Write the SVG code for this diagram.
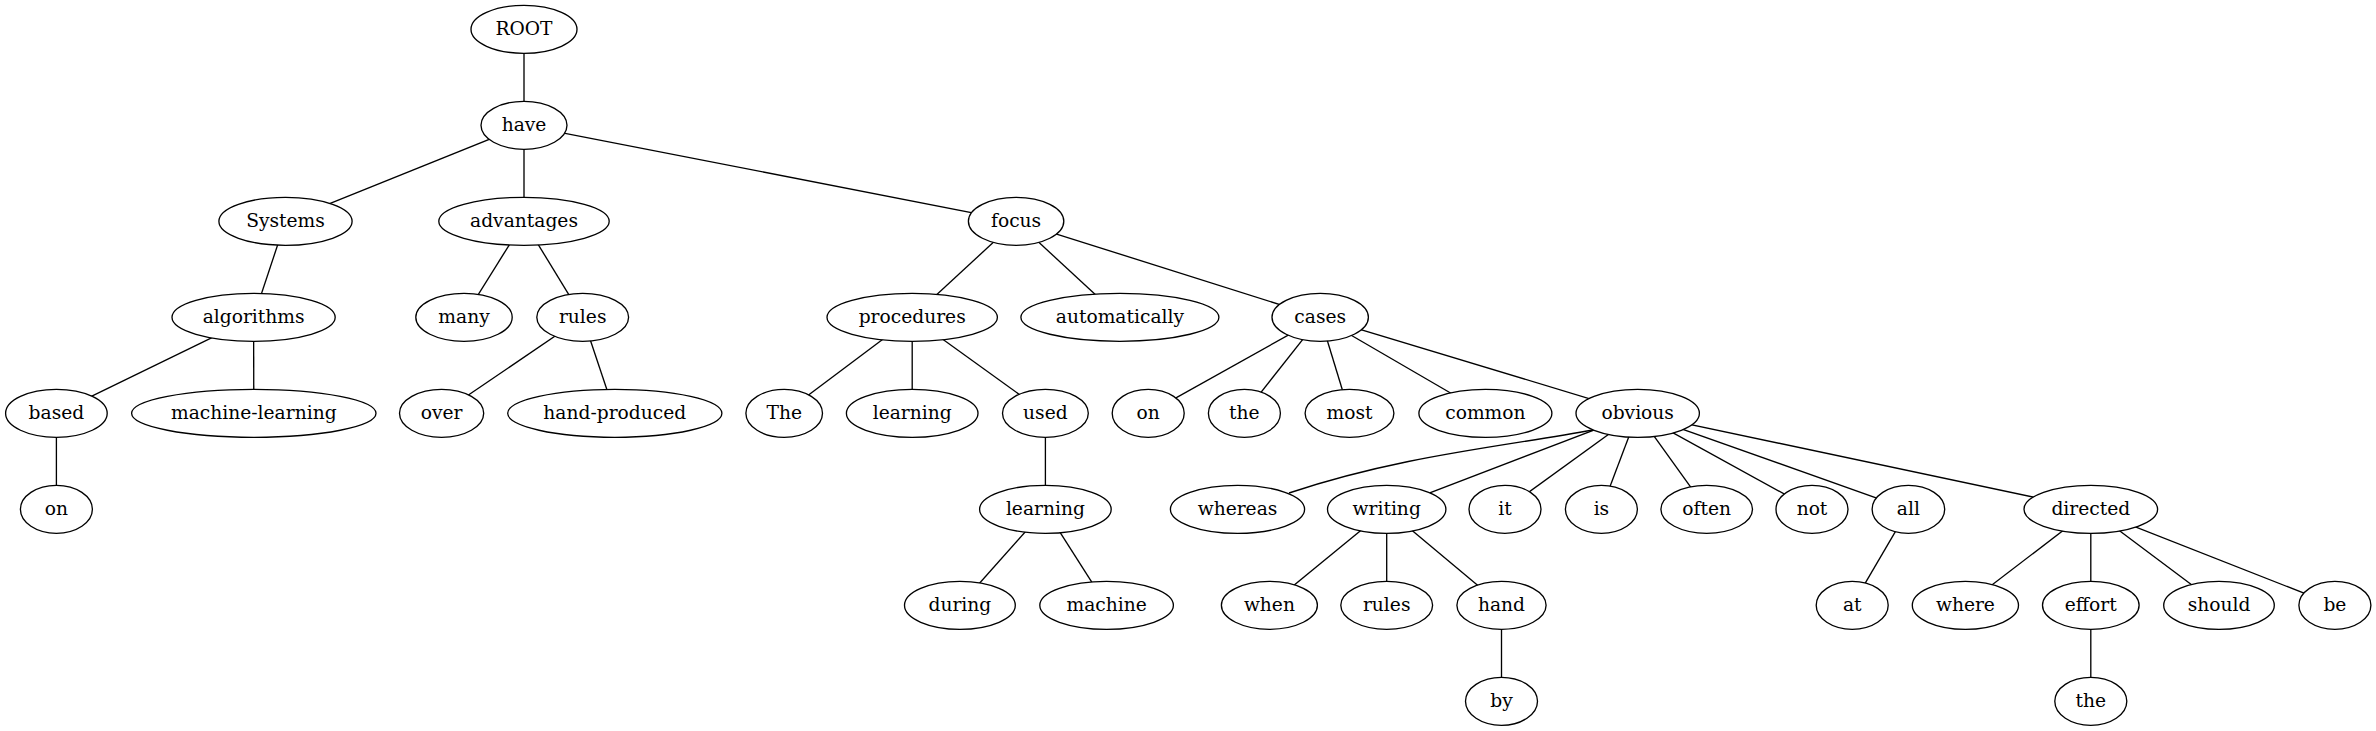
<svg xmlns="http://www.w3.org/2000/svg" width="2376" height="731" viewBox="0 0 2376 731">
<style>
.n ellipse{fill:#fff;stroke:#000;stroke-width:1.33}
.n text{font-family:"DejaVu Serif","Liberation Serif",serif;font-size:18.67px;text-anchor:middle;fill:#000}
#edges line,#edges path{stroke:#000;stroke-width:1.33;fill:none}
</style>
<rect width="2376" height="731" fill="#fff"/>
<g id="edges">
<line x1="524" y1="29.3" x2="524" y2="125.3"/>
<line x1="524" y1="125.3" x2="285.5" y2="221.3"/>
<line x1="524" y1="125.3" x2="524" y2="221.3"/>
<line x1="524" y1="125.3" x2="1016.1" y2="221.3"/>
<line x1="285.5" y1="221.3" x2="253.6" y2="317.3"/>
<line x1="253.6" y1="317.3" x2="56.4" y2="413.3"/>
<line x1="253.6" y1="317.3" x2="253.8" y2="413.3"/>
<line x1="56.4" y1="413.3" x2="56.4" y2="509.3"/>
<line x1="524" y1="221.3" x2="464" y2="317.3"/>
<line x1="524" y1="221.3" x2="582.7" y2="317.3"/>
<line x1="582.7" y1="317.3" x2="441.6" y2="413.3"/>
<line x1="582.7" y1="317.3" x2="614.8" y2="413.3"/>
<line x1="1016.1" y1="221.3" x2="912.2" y2="317.3"/>
<line x1="1016.1" y1="221.3" x2="1119.9" y2="317.3"/>
<line x1="1016.1" y1="221.3" x2="1320.2" y2="317.3"/>
<line x1="912.2" y1="317.3" x2="784.2" y2="413.3"/>
<line x1="912.2" y1="317.3" x2="912.2" y2="413.3"/>
<line x1="912.2" y1="317.3" x2="1045.4" y2="413.3"/>
<line x1="1045.4" y1="413.3" x2="1045.4" y2="509.3"/>
<line x1="1045.4" y1="509.3" x2="959.9" y2="605.3"/>
<line x1="1045.4" y1="509.3" x2="1106.6" y2="605.3"/>
<line x1="1320.2" y1="317.3" x2="1148.2" y2="413.3"/>
<line x1="1320.2" y1="317.3" x2="1244.4" y2="413.3"/>
<line x1="1320.2" y1="317.3" x2="1349.5" y2="413.3"/>
<line x1="1320.2" y1="317.3" x2="1485.4" y2="413.3"/>
<line x1="1320.2" y1="317.3" x2="1637.7" y2="413.3"/>
<path d="M1593,430 C1500,447 1400,456 1289,493"/>
<line x1="1637.7" y1="413.3" x2="1386.7" y2="509.3"/>
<line x1="1637.7" y1="413.3" x2="1505" y2="509.3"/>
<line x1="1637.7" y1="413.3" x2="1601.4" y2="509.3"/>
<line x1="1637.7" y1="413.3" x2="1706.7" y2="509.3"/>
<line x1="1637.7" y1="413.3" x2="1812" y2="509.3"/>
<line x1="1637.7" y1="413.3" x2="1908.4" y2="509.3"/>
<line x1="1637.7" y1="413.3" x2="2090.8" y2="509.3"/>
<line x1="1386.7" y1="509.3" x2="1269.4" y2="605.3"/>
<line x1="1386.7" y1="509.3" x2="1386.7" y2="605.3"/>
<line x1="1386.7" y1="509.3" x2="1501.5" y2="605.3"/>
<line x1="1501.5" y1="605.3" x2="1501.5" y2="701.3"/>
<line x1="1908.4" y1="509.3" x2="1852.2" y2="605.3"/>
<line x1="2090.8" y1="509.3" x2="1965.4" y2="605.3"/>
<line x1="2090.8" y1="509.3" x2="2090.8" y2="605.3"/>
<line x1="2090.8" y1="509.3" x2="2219" y2="605.3"/>
<line x1="2090.8" y1="509.3" x2="2334.9" y2="605.3"/>
<line x1="2090.8" y1="605.3" x2="2090.8" y2="701.3"/>
</g>
<g id="n_root" class="n"><ellipse cx="524" cy="29.3" rx="53" ry="24"/><text x="524" y="35.3">ROOT</text></g>
<g id="n_have" class="n"><ellipse cx="524" cy="125.3" rx="43" ry="24"/><text x="524" y="131.3">have</text></g>
<g id="n_systems" class="n"><ellipse cx="285.5" cy="221.3" rx="66.6" ry="24"/><text x="285.5" y="227.3">Systems</text></g>
<g id="n_advantages" class="n"><ellipse cx="524" cy="221.3" rx="85.2" ry="24"/><text x="524" y="227.3">advantages</text></g>
<g id="n_focus" class="n"><ellipse cx="1016.1" cy="221.3" rx="47.7" ry="24"/><text x="1016.1" y="227.3">focus</text></g>
<g id="n_algorithms" class="n"><ellipse cx="253.6" cy="317.3" rx="81.6" ry="24"/><text x="253.6" y="323.3">algorithms</text></g>
<g id="n_many" class="n"><ellipse cx="464" cy="317.3" rx="48.2" ry="24"/><text x="464" y="323.3">many</text></g>
<g id="n_rules1" class="n"><ellipse cx="582.7" cy="317.3" rx="45.9" ry="24"/><text x="582.7" y="323.3">rules</text></g>
<g id="n_procedures" class="n"><ellipse cx="912.2" cy="317.3" rx="85.2" ry="24"/><text x="912.2" y="323.3">procedures</text></g>
<g id="n_automatically" class="n"><ellipse cx="1119.9" cy="317.3" rx="99" ry="24"/><text x="1119.9" y="323.3">automatically</text></g>
<g id="n_cases" class="n"><ellipse cx="1320.2" cy="317.3" rx="48.2" ry="24"/><text x="1320.2" y="323.3">cases</text></g>
<g id="n_based" class="n"><ellipse cx="56.4" cy="413.3" rx="50.8" ry="24"/><text x="56.4" y="419.3">based</text></g>
<g id="n_machine_learning" class="n"><ellipse cx="253.8" cy="413.3" rx="122.2" ry="24"/><text x="253.8" y="419.3">machine-learning</text></g>
<g id="n_over" class="n"><ellipse cx="441.6" cy="413.3" rx="42.1" ry="24"/><text x="441.6" y="419.3">over</text></g>
<g id="n_hand_produced" class="n"><ellipse cx="614.8" cy="413.3" rx="107.1" ry="24"/><text x="614.8" y="419.3">hand-produced</text></g>
<g id="n_The" class="n"><ellipse cx="784.2" cy="413.3" rx="38.3" ry="24"/><text x="784.2" y="419.3">The</text></g>
<g id="n_learning1" class="n"><ellipse cx="912.2" cy="413.3" rx="65.8" ry="24"/><text x="912.2" y="419.3">learning</text></g>
<g id="n_used" class="n"><ellipse cx="1045.4" cy="413.3" rx="42.9" ry="24"/><text x="1045.4" y="419.3">used</text></g>
<g id="n_on2" class="n"><ellipse cx="1148.2" cy="413.3" rx="36" ry="24"/><text x="1148.2" y="419.3">on</text></g>
<g id="n_the1" class="n"><ellipse cx="1244.4" cy="413.3" rx="36" ry="24"/><text x="1244.4" y="419.3">the</text></g>
<g id="n_most" class="n"><ellipse cx="1349.5" cy="413.3" rx="44.4" ry="24"/><text x="1349.5" y="419.3">most</text></g>
<g id="n_common" class="n"><ellipse cx="1485.4" cy="413.3" rx="66.5" ry="24"/><text x="1485.4" y="419.3">common</text></g>
<g id="n_obvious" class="n"><ellipse cx="1637.7" cy="413.3" rx="61.7" ry="24"/><text x="1637.7" y="419.3">obvious</text></g>
<g id="n_on1" class="n"><ellipse cx="56.4" cy="509.3" rx="36" ry="24"/><text x="56.4" y="515.3">on</text></g>
<g id="n_learning2" class="n"><ellipse cx="1045.4" cy="509.3" rx="65.8" ry="24"/><text x="1045.4" y="515.3">learning</text></g>
<g id="n_whereas" class="n"><ellipse cx="1237.5" cy="509.3" rx="67.1" ry="24"/><text x="1237.5" y="515.3">whereas</text></g>
<g id="n_writing" class="n"><ellipse cx="1386.7" cy="509.3" rx="59.2" ry="24"/><text x="1386.7" y="515.3">writing</text></g>
<g id="n_it" class="n"><ellipse cx="1505" cy="509.3" rx="36" ry="24"/><text x="1505" y="515.3">it</text></g>
<g id="n_is" class="n"><ellipse cx="1601.4" cy="509.3" rx="36" ry="24"/><text x="1601.4" y="515.3">is</text></g>
<g id="n_often" class="n"><ellipse cx="1706.7" cy="509.3" rx="45.8" ry="24"/><text x="1706.7" y="515.3">often</text></g>
<g id="n_not" class="n"><ellipse cx="1812" cy="509.3" rx="36" ry="24"/><text x="1812" y="515.3">not</text></g>
<g id="n_all" class="n"><ellipse cx="1908.4" cy="509.3" rx="36.3" ry="24"/><text x="1908.4" y="515.3">all</text></g>
<g id="n_directed" class="n"><ellipse cx="2090.8" cy="509.3" rx="66.8" ry="24"/><text x="2090.8" y="515.3">directed</text></g>
<g id="n_during" class="n"><ellipse cx="959.9" cy="605.3" rx="55.4" ry="24"/><text x="959.9" y="611.3">during</text></g>
<g id="n_machine" class="n"><ellipse cx="1106.6" cy="605.3" rx="66.8" ry="24"/><text x="1106.6" y="611.3">machine</text></g>
<g id="n_when" class="n"><ellipse cx="1269.4" cy="605.3" rx="48" ry="24"/><text x="1269.4" y="611.3">when</text></g>
<g id="n_rules2" class="n"><ellipse cx="1386.7" cy="605.3" rx="45.9" ry="24"/><text x="1386.7" y="611.3">rules</text></g>
<g id="n_hand" class="n"><ellipse cx="1501.5" cy="605.3" rx="44.6" ry="24"/><text x="1501.5" y="611.3">hand</text></g>
<g id="n_at" class="n"><ellipse cx="1852.2" cy="605.3" rx="36" ry="24"/><text x="1852.2" y="611.3">at</text></g>
<g id="n_where" class="n"><ellipse cx="1965.4" cy="605.3" rx="53.1" ry="24"/><text x="1965.4" y="611.3">where</text></g>
<g id="n_effort" class="n"><ellipse cx="2090.8" cy="605.3" rx="48.3" ry="24"/><text x="2090.8" y="611.3">effort</text></g>
<g id="n_should" class="n"><ellipse cx="2219" cy="605.3" rx="55.3" ry="24"/><text x="2219" y="611.3">should</text></g>
<g id="n_be" class="n"><ellipse cx="2334.9" cy="605.3" rx="36" ry="24"/><text x="2334.9" y="611.3">be</text></g>
<g id="n_by" class="n"><ellipse cx="1501.5" cy="701.3" rx="36" ry="24"/><text x="1501.5" y="707.3">by</text></g>
<g id="n_the2" class="n"><ellipse cx="2090.8" cy="701.3" rx="36" ry="24"/><text x="2090.8" y="707.3">the</text></g>
</svg>
